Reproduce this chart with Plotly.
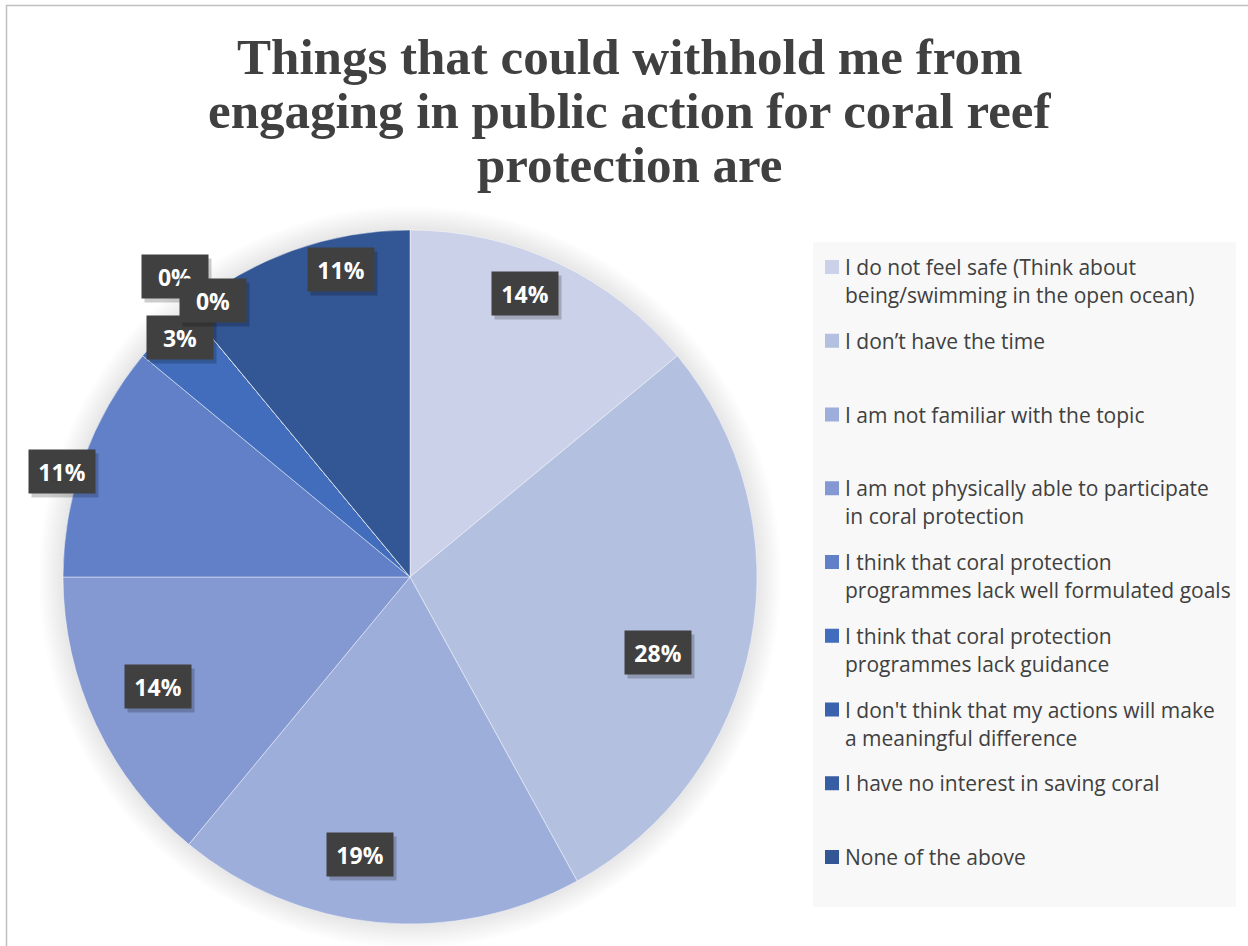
import math
import plotly.graph_objects as go

# Survey answers (share of respondents, %)
categories = [
    "I do not feel safe (Think about\nbeing/swimming in the open ocean)",
    "I don’t have the time",
    "I am not familiar with the topic",
    "I am not physically able to participate\nin coral protection",
    "I think that coral protection\nprogrammes lack well formulated goals",
    "I think that coral protection\nprogrammes lack guidance",
    "I don't think that my actions will make\na meaningful difference",
    "I have no interest in saving coral",
    "None of the above",
]
shares = [14, 28, 19, 14, 11, 3, 0, 0, 11]
colors = ["#CBD1E8", "#B4C0E0", "#9EAEDA", "#8498D2", "#6180C7",
          "#416DBC", "#3B63AD", "#375DA3", "#335694"]

title_lines = ["Things that could withhold me from",
               "engaging in public action for coral reef",
               "protection are"]

# Data-label placement: radius as fraction of the pie radius, and angular nudge (deg)
label_radius = [0.882, 0.746, 0.813, 0.793, 1.049, 0.957, 1.098, 0.977, 0.908]
label_nudge = [-3.1, 6.1, 4.8, 1.7, -2.9, 1.2, 1.6, 4.1, 7.2]

W, H = 1248, 946
CX, CY, R = 410, 577, 347


def px(x):
    return x / W


def py(y):
    return 1 - y / H


fig = go.Figure()
fig.add_trace(go.Pie(
    labels=[c.replace("\n", " ") for c in categories],
    values=shares,
    sort=False,
    direction="clockwise",
    rotation=0,
    marker=dict(colors=colors, line=dict(color="rgba(255,255,255,0.45)", width=1)),
    textinfo="none",
    hoverinfo="label+percent",
    showlegend=False,
    domain=dict(x=[px(CX - R), px(CX + R)], y=[py(CY + R), py(CY - R)]),
))

shapes = []
# soft glow around the pie
for k in range(12, 0, -1):
    rr = R + 2 * k
    shapes.append(dict(type="circle", xref="paper", yref="paper",
                       x0=px(CX - rr), x1=px(CX + rr), y0=py(CY + rr), y1=py(CY - rr),
                       fillcolor="rgba(0,0,0,0.009)", line=dict(width=0), layer="below"))
# chart frame
shapes.append(dict(type="rect", xref="paper", yref="paper",
                   x0=px(6.5), x1=px(1262), y0=py(960), y1=py(5.5),
                   line=dict(color="#C0C0C0", width=1.5), layer="below"))
# legend panel
shapes.append(dict(type="rect", xref="paper", yref="paper",
                   x0=px(813), x1=px(1236), y0=py(907), y1=py(242),
                   fillcolor="#F8F8F8", line=dict(width=0), layer="below"))

annotations = []
# title
for i, line in enumerate(title_lines):
    annotations.append(dict(
        text=f"<b>{line}</b>", x=px(629), y=py(57 + 54 * i), xref="paper", yref="paper",
        xanchor="center", yanchor="middle", showarrow=False,
        font=dict(family="Liberation Serif", size=51, color="#404040")))

# legend entries
first_y, step = 267, 73.75
for i, (cat, col) in enumerate(zip(categories, colors)):
    yc = first_y + step * i
    shapes.append(dict(type="rect", xref="paper", yref="paper",
                       x0=px(825), x1=px(839), y0=py(yc + 7), y1=py(yc - 7),
                       fillcolor=col, line=dict(width=0)))
    for j, part in enumerate(cat.split("\n")):
        annotations.append(dict(
            text=part, x=px(843), y=py(yc + 28 * j), xref="paper", yref="paper",
            xanchor="left", yanchor="middle", showarrow=False,
            font=dict(family="Open Sans", size=21, color="#404040")))

# data labels
total = sum(shares)
cum = 0
for i, v in enumerate(shares):
    mid = (cum + v / 2) / total * 360
    cum += v
    a = math.radians(mid + label_nudge[i])
    r = label_radius[i] * R
    lx = CX + r * math.sin(a)
    ly = CY - r * math.cos(a)
    pct = f"{round(v / total * 100)}%"
    common = dict(x=px(lx), y=py(ly), xref="paper", yref="paper",
                  xanchor="center", yanchor="middle", showarrow=False,
                  width=64, height=41)
    annotations.append(dict(text="", bgcolor="rgba(0,0,0,0.2)",
                            xshift=3, yshift=-4, **common))
    annotations.append(dict(text=f"<b>{pct}</b>", bgcolor="#404040",
                            font=dict(family="Open Sans", size=23, color="#FFFFFF"),
                            **common))

fig.update_layout(
    width=W, height=H,
    margin=dict(l=0, r=0, t=0, b=0),
    paper_bgcolor="#FFFFFF",
    plot_bgcolor="#FFFFFF",
    shapes=shapes,
    annotations=annotations,
)

fig.write_html("out.html")
